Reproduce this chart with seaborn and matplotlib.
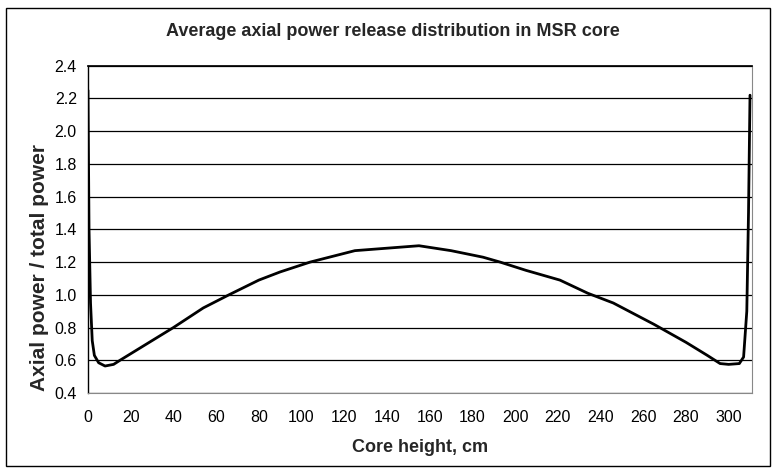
import matplotlib
matplotlib.use("Agg")
import matplotlib.pyplot as plt
import seaborn as sns
import pandas as pd
from matplotlib.patches import Rectangle

# axial power profile
height_cm = [0, 0.5, 1.2, 2.0, 3.0, 5.0, 8.0, 12.0, 15.0, 25.0, 40.0, 54.0, 66.0,
             80.0, 90.0, 104.0, 125.0, 155.0, 170.0, 185.0, 193.0, 205.0, 221.0,
             234.0, 246.0, 265.0, 280.0, 290.0, 296.0, 300.0, 305.0, 307.0,
             308.5, 309.3, 310.0]
power_ratio = [2.25, 1.40, 0.95, 0.72, 0.63, 0.585, 0.565, 0.575, 0.60, 0.68, 0.80,
               0.92, 1.00, 1.09, 1.14, 1.20, 1.27, 1.30, 1.27, 1.23, 1.20, 1.15,
               1.09, 1.01, 0.95, 0.82, 0.71, 0.63, 0.58, 0.575, 0.58, 0.62,
               0.90, 1.50, 2.22]

x_ticks = list(range(0, 301, 20))
y_ticks = [0.4, 0.6, 0.8, 1.0, 1.2, 1.4, 1.6, 1.8, 2.0, 2.2, 2.4]

sns.set_theme(style="white")
plt.rcParams["font.family"] = ["Liberation Sans", "DejaVu Sans"]

df = pd.DataFrame({"height": height_cm, "power": power_ratio})

fig = plt.figure(figsize=(7.75, 4.75), dpi=100)
ax = fig.add_axes([0.1135, 0.1726, 0.857, 0.689])

# horizontal grid lines in black like the Excel original
for yv in y_ticks:
    ax.axhline(yv, color="black", lw=0.9, zorder=1)

sns.lineplot(data=df, x="height", y="power", ax=ax, color="black", lw=2.0,
             zorder=3, sort=False)

ax.set_xlim(0, 311)
ax.set_ylim(0.4, 2.4)
ax.set_xticks(x_ticks)
ax.set_yticks(y_ticks)
ax.set_xticklabels([str(t) for t in x_ticks])
ax.set_yticklabels([f"{t:.1f}" for t in y_ticks])
ax.tick_params(axis="both", labelsize=11.5, colors="black", direction="out",
               length=3, width=0.8, pad=5)
ax.tick_params(axis="x", pad=9)

ax.spines["left"].set_color("black")
ax.spines["left"].set_linewidth(1.0)
for side in ["bottom", "right"]:
    ax.spines[side].set_color("#888888")
    ax.spines[side].set_linewidth(0.8)
ax.spines["top"].set_color("black")

ax.set_xlabel("Core height, cm", fontsize=13, fontweight="bold", labelpad=10)
ax.set_ylabel("Axial power / total power", fontsize=15, fontweight="bold")
# the Excel axis title sits a bit below the middle of the axis
ax.yaxis.set_label_coords(-0.058, 0.382)
fig.suptitle("Average axial power release distribution in MSR core",
             fontsize=13, fontweight="bold", x=0.507, y=0.952)

# outer frame around the whole chart
fig.patches.append(Rectangle((0.008, 0.018), 0.985, 0.966, transform=fig.transFigure,
                             fill=False, edgecolor="black", lw=1.0))

fig.savefig("out.png", dpi=100)
plt.close(fig)
